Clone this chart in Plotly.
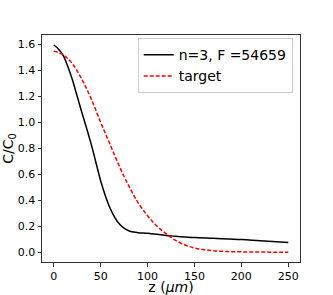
import plotly.graph_objects as go

# black curve: n=3, F=54659
z_fit = [0, 5, 10, 15, 20, 25, 30, 35, 40, 45, 50, 55, 60, 65, 70, 75, 80, 85, 90, 100, 110, 120, 130, 140, 150, 170, 200, 220, 250]
c_fit = [1.595, 1.565, 1.515, 1.43, 1.325, 1.20, 1.075, 0.955, 0.83, 0.69, 0.55, 0.435, 0.34, 0.268, 0.217, 0.185, 0.165, 0.155, 0.150, 0.146, 0.138, 0.128, 0.122, 0.117, 0.112, 0.106, 0.097, 0.087, 0.074]

# red dashed target curve
z_target = [0, 10, 20, 30, 40, 50, 60, 70, 80, 90, 100, 110, 120, 130, 140, 150, 160, 170, 180, 190, 200, 210, 220, 230, 240, 250]
c_target = [1.548, 1.52, 1.45, 1.33, 1.18, 1.0, 0.83, 0.66, 0.51, 0.38, 0.28, 0.20, 0.14, 0.09, 0.055, 0.032, 0.019, 0.011, 0.006, 0.003, 0.002, 0.001, 0.0005, 0.0, 0.0, 0.0]

x_ticks = [0, 50, 100, 150, 200, 250]
y_ticks = [0.0, 0.2, 0.4, 0.6, 0.8, 1.0, 1.2, 1.4, 1.6]

FONT = "DejaVu Sans"

fig = go.Figure()
fig.add_trace(go.Scatter(x=z_fit, y=c_fit, mode="lines", name="n=3, F =54659",
                         line=dict(color="black", width=1.5, shape="spline", smoothing=1.0)))
fig.add_trace(go.Scatter(x=z_target, y=c_target, mode="lines", name="target",
                         line=dict(color="red", width=1.5, dash="4px,2px", shape="spline", smoothing=1.0)))

axis_common = dict(showline=True, linecolor="#333", linewidth=1, mirror=True,
                   ticks="outside", ticklen=3.5, tickcolor="#333", tickwidth=1,
                   showgrid=False, zeroline=False, automargin=False,
                   tickfont=dict(family=FONT, size=11, color="black"))

fig.update_layout(
    width=333, height=295,
    margin=dict(l=42, r=33, t=35, b=33),
    paper_bgcolor="white", plot_bgcolor="white",
    font=dict(family=FONT, color="black"),
    xaxis=dict(range=[-12.5, 262.5], tickvals=x_ticks,
               title=dict(text="z (<i>μm</i>)", font=dict(family=FONT, size=14)),
               **axis_common),
    yaxis=dict(range=[-0.076, 1.672], tickvals=y_ticks, tickformat=".1f",
               title=dict(text="C/C<sub>0</sub>", font=dict(family=FONT, size=14)),
               **axis_common),
    legend=dict(x=0.371, y=0.986, xanchor="left", yanchor="top",
                bgcolor="white", bordercolor="#ccc", borderwidth=1,
                font=dict(family=FONT, size=14, color="black"),
                tracegroupgap=0, itemwidth=30),
    showlegend=True,
)

fig.write_html("out.html", config={"displayModeBar": False},
               post_script="document.body.style.margin='0';")
